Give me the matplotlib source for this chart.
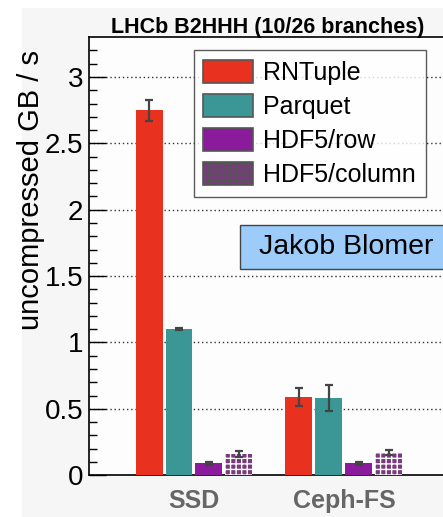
import numpy as np
import matplotlib
matplotlib.use('Agg')
import matplotlib.pyplot as plt
from matplotlib.patches import Rectangle

plt.rcParams['font.family'] = ['Liberation Sans', 'DejaVu Sans']
plt.rcParams['hatch.linewidth'] = 1.0

# data
groups = ['SSD', 'Ceph-FS']
series = ['RNTuple', 'Parquet', 'HDF5/row', 'HDF5/column']
values = {
    'RNTuple': [2.75, 0.59],
    'Parquet': [1.10, 0.58],
    'HDF5/row': [0.09, 0.09],
    'HDF5/column': [0.16, 0.17],
}
errors = {
    'RNTuple': [0.08, 0.07],
    'Parquet': [0.01, 0.10],
    'HDF5/row': [0.01, 0.01],
    'HDF5/column': [0.02, 0.02],
}
colors = {
    'RNTuple': '#e8321f',
    'Parquet': '#3b9696',
    'HDF5/row': '#8a1c9c',
    'HDF5/column': '#7a3a7e',
}

fig = plt.figure(figsize=(4.43, 5.17), dpi=100, facecolor='white')
# light grey slide panel behind the plot
fig.patches.append(Rectangle((0.05, 0.0), 0.95, 0.985, transform=fig.transFigure,
                             facecolor='#f6f6f6', edgecolor='none', zorder=-10))

ax = fig.add_axes([0.201, 0.081, 0.819, 0.847])
ax.set_facecolor('#fdfdfd')

x = np.arange(len(groups))
width = 0.18
step = 0.2
for i, s in enumerate(series):
    pos = x + (i - 1.5) * step
    hatch = '+++' if s == 'HDF5/column' else None
    ec = 'white' if s == 'HDF5/column' else colors[s]
    ax.bar(pos, values[s], width, color=colors[s], edgecolor=ec, linewidth=0,
           hatch=hatch, label=s, zorder=3)
    ax.errorbar(pos, values[s], yerr=errors[s], fmt='none', ecolor='#444444',
                elinewidth=1.6, capsize=3, capthick=1.6, zorder=4)

ax.set_xlim(-0.70, 1.72)
ax.set_ylim(0, 3.3)
ax.set_yticks(np.arange(0, 3.01, 0.5))
ax.set_yticklabels(['0', '0.5', '1', '1.5', '2', '2.5', '3'])
ax.set_yticks(np.arange(0, 3.3, 0.1), minor=True)
ax.tick_params(axis='y', which='major', direction='in', length=12, width=1,
               labelsize=20, pad=4)
ax.tick_params(axis='y', which='minor', direction='in', length=6, width=1)
ax.set_xticks(x)
ax.set_xticklabels(groups, fontsize=18, fontweight='bold', color='#666666')
ax.tick_params(axis='x', length=0, pad=10)
for y in np.arange(0.5, 3.01, 0.5):
    ax.axhline(y, color='#333333', linestyle=(0, (1, 2)), linewidth=1, zorder=1)
for sp in ax.spines.values():
    sp.set_linewidth(1.2)
ax.spines['right'].set_visible(False)

fig.text(0.07, 0.632, 'uncompressed GB / s', fontsize=21, rotation=90,
         ha='center', va='center')

fig.text(0.605, 0.947, 'LHCb B2HHH (10/26 branches)', fontsize=15.5,
         fontweight='bold', ha='center', va='center')

leg = ax.legend(loc='upper left', bbox_to_anchor=(0.289, 0.97), fontsize=18,
                frameon=True, fancybox=False, edgecolor='#333333',
                handlelength=2.0, handleheight=1.05, labelspacing=0.36,
                borderpad=0.38, handletextpad=0.4, borderaxespad=0)
leg.get_frame().set_linewidth(1.0)
leg.get_frame().set_facecolor('white')
for h in leg.legend_handles:
    h.set_edgecolor('#555555')
    h.set_linewidth(1.2)

fig.patches.append(Rectangle((0.542, 0.480), 0.47, 0.085, transform=fig.transFigure,
                             facecolor='#9dcbfa', edgecolor='#444444',
                             linewidth=1, zorder=5))
fig.text(0.585, 0.522, 'Jakob Blomer', fontsize=20.5, ha='left', va='center',
         zorder=6)

fig.savefig('out.png', dpi=100, facecolor=fig.get_facecolor())
